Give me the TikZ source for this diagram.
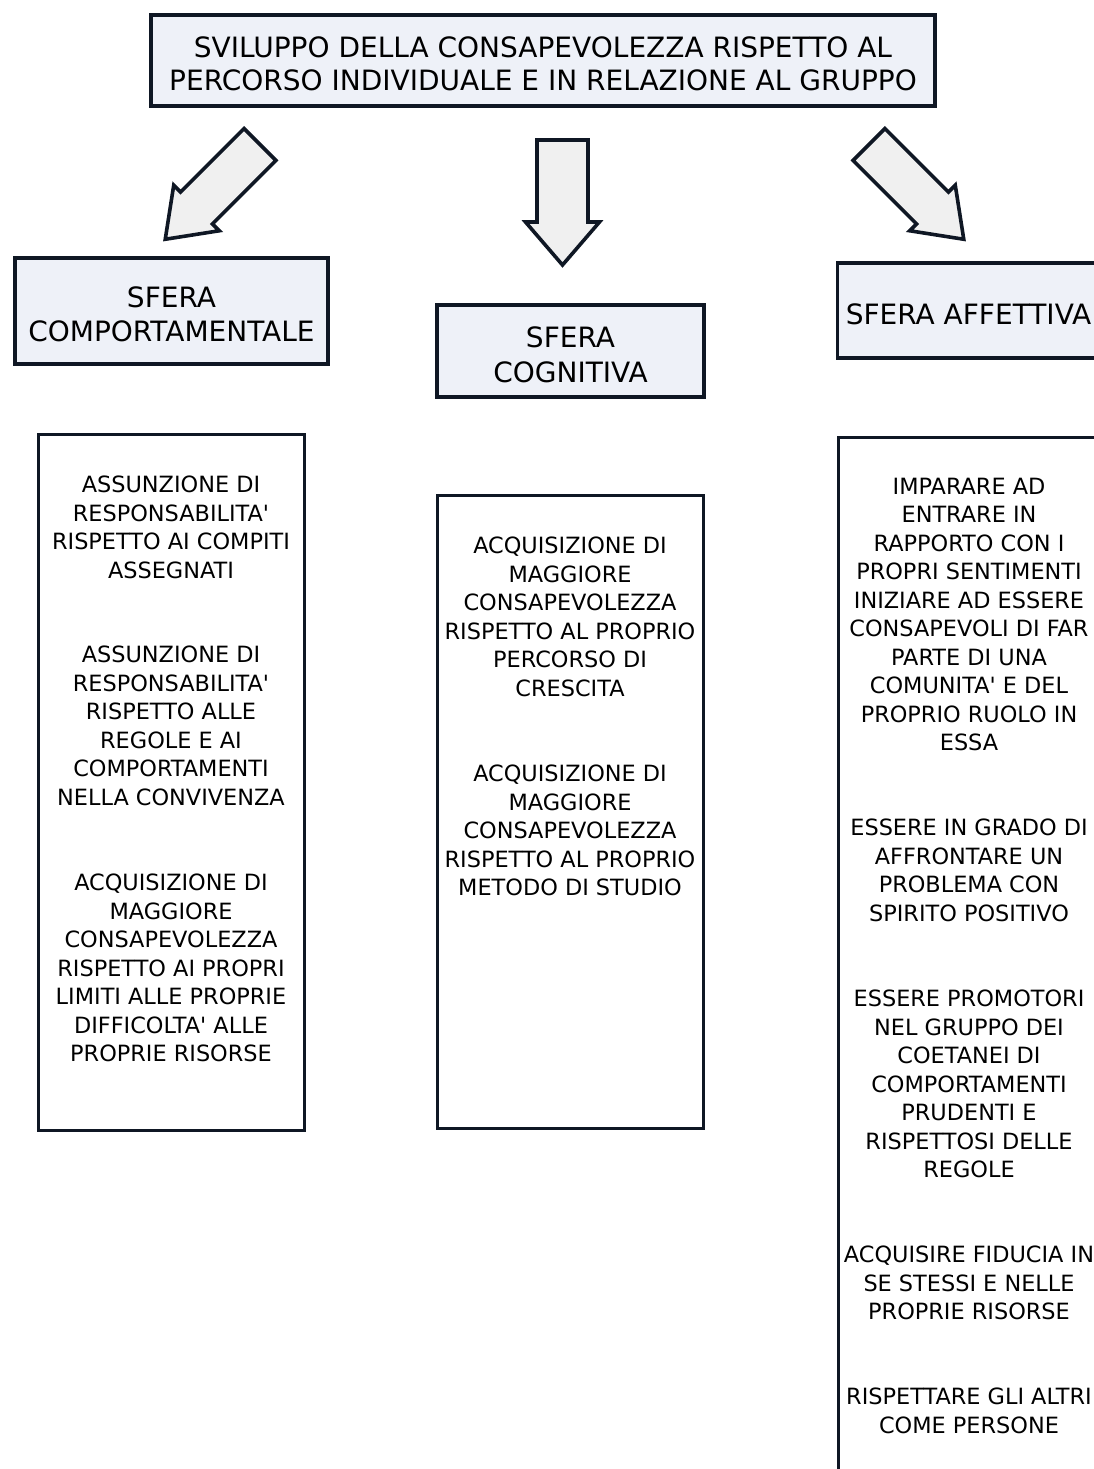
\documentclass[tikz,border=0pt]{standalone}
\usepackage{fontspec}
\newfontfamily\dv{DejaVu Sans}
\definecolor{bordc}{HTML}{0F1724}
\definecolor{boxfill}{HTML}{EEF1F8}
\definecolor{arrfill}{HTML}{F0F0F0}
\begin{document}
\begin{tikzpicture}[x=1pt,y=-1pt,
  hdrbox/.style={draw=bordc, line width=3.4pt, fill=boxfill, inner sep=0pt},
  hdrtext/.style={align=center, inner sep=0pt, font=\dv\fontsize{28}{34}\selectfont},
  contentbox/.style={draw=bordc, line width=3pt, fill=white, inner sep=0pt},
  para/.style={align=center, inner sep=0pt, anchor=north, font=\dv\fontsize{22.4}{28.5}\selectfont},
  blockarrow/.style={draw=bordc, line width=3.6pt, fill=arrfill, line join=miter}]
\useasboundingbox (0,0) rectangle (1094,1469);
\clip (0,0) rectangle (1094,1469);
\fill[white] (0,0) rectangle (1094,1469);

% title
\node[hdrbox, minimum width=784pt, minimum height=91pt] (title) at (543,60.5) {};
\node[hdrtext, font=\dv\fontsize{28}{33}\selectfont] (titletext) at (543,63.5)
  {SVILUPPO DELLA CONSAPEVOLEZZA RISPETTO AL\\PERCORSO INDIVIDUALE E IN RELAZIONE AL GRUPPO};

% block arrows
\draw[blockarrow, shift={(260,144.5)}, rotate=-135]
  (0,-22.5) -- (89.8,-22.5) -- (89.8,-32.2) -- (134,0) -- (89.8,32.2) -- (89.8,22.5) -- (0,22.5) -- cycle;
\draw[blockarrow, shift={(562.5,140)}, rotate=-90]
  (0,-25.5) -- (82,-25.5) -- (82,-37) -- (125,0) -- (82,37) -- (82,25.5) -- (0,25.5) -- cycle;
\draw[blockarrow, shift={(869,144.5)}, rotate=-45]
  (0,-22.5) -- (89.8,-22.5) -- (89.8,-32.2) -- (134,0) -- (89.8,32.2) -- (89.8,22.5) -- (0,22.5) -- cycle;

% header boxes
\node[hdrbox, minimum width=313pt, minimum height=106pt] (hleft) at (171.5,311) {};
\node[hdrtext] (hlefttext) at (171.5,314) {SFERA\\COMPORTAMENTALE};
\node[hdrbox, minimum width=267pt, minimum height=92pt] (hmid) at (570.5,351) {};
\node[hdrtext, font=\dv\fontsize{28}{35}\selectfont] (hmidtext) at (570.5,354.5) {SFERA\\COGNITIVA};
\node[hdrbox, minimum width=300pt, minimum height=95pt, anchor=west] (hright) at (836,310.5) {};
\node[hdrtext] (hrighttext) at (968.5,314) {SFERA AFFETTIVA};

% content boxes
\node[contentbox, minimum width=266pt, minimum height=696pt] (cleft) at (171,782) {};
\node[contentbox, minimum width=266pt, minimum height=633pt] (cmid) at (570,811.5) {};
\node[contentbox, minimum width=300pt, minimum height=1100pt, anchor=north west] (cright) at (837,436) {};

% left paragraphs
\node[para] (l1) at (171,475.8) {ASSUNZIONE DI\\RESPONSABILITA'\\RISPETTO AI COMPITI\\ASSEGNATI};
\node[para] (l2) at (171,645.8) {ASSUNZIONE DI\\RESPONSABILITA'\\RISPETTO ALLE\\REGOLE E AI\\COMPORTAMENTI\\NELLA CONVIVENZA};
\node[para] (l3) at (171,873.8) {ACQUISIZIONE DI\\MAGGIORE\\CONSAPEVOLEZZA\\RISPETTO AI PROPRI\\LIMITI ALLE PROPRIE\\DIFFICOLTA' ALLE\\PROPRIE RISORSE};

% middle paragraphs
\node[para] (m1) at (570,536.8) {ACQUISIZIONE DI\\MAGGIORE\\CONSAPEVOLEZZA\\RISPETTO AL PROPRIO\\PERCORSO DI\\CRESCITA};
\node[para] (m2) at (570,764.8) {ACQUISIZIONE DI\\MAGGIORE\\CONSAPEVOLEZZA\\RISPETTO AL PROPRIO\\METODO DI STUDIO};

% right paragraphs
\node[para] (r1) at (969,477.8) {IMPARARE AD\\ENTRARE IN\\RAPPORTO CON I\\PROPRI SENTIMENTI\\INIZIARE AD ESSERE\\CONSAPEVOLI DI FAR\\PARTE DI UNA\\COMUNITA' E DEL\\PROPRIO RUOLO IN\\ESSA};
\node[para] (r2) at (969,818.8) {ESSERE IN GRADO DI\\AFFRONTARE UN\\PROBLEMA CON\\SPIRITO POSITIVO};
\node[para] (r3) at (969,989.8) {ESSERE PROMOTORI\\NEL GRUPPO DEI\\COETANEI DI\\COMPORTAMENTI\\PRUDENTI E\\RISPETTOSI DELLE\\REGOLE};
\node[para] (r4) at (969,1245.8) {ACQUISIRE FIDUCIA IN\\SE STESSI E NELLE\\PROPRIE RISORSE};
\node[para] (r5) at (969,1387.8) {RISPETTARE GLI ALTRI\\COME PERSONE};
\end{tikzpicture}
\end{document}
